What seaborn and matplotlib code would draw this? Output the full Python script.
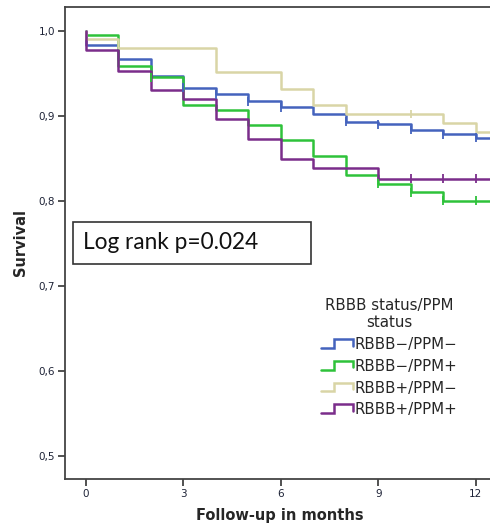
import numpy as np
import pandas as pd
import matplotlib
matplotlib.use("Agg")
import matplotlib.pyplot as plt
from matplotlib.lines import Line2D
from matplotlib.legend_handler import HandlerBase
from matplotlib.patches import Rectangle
import seaborn as sns

# Kaplan-Meier estimates, one value per month (a repeated 0 gives the drop at time zero)
months = [0, 0, 1, 2, 3, 4, 5, 6, 7, 8, 9, 10, 11, 12, 12.9]
groups = ["RBBB\u2212/PPM\u2212", "RBBB\u2212/PPM+", "RBBB+/PPM\u2212", "RBBB+/PPM+"]
surv_neg_neg = [1.0, 0.983, 0.966, 0.946, 0.933, 0.925, 0.917, 0.910, 0.902, 0.893, 0.890, 0.883, 0.878, 0.874, 0.874]
surv_neg_pos = [1.0, 0.995, 0.958, 0.945, 0.912, 0.907, 0.889, 0.871, 0.852, 0.830, 0.820, 0.810, 0.800, 0.800, 0.800]
surv_pos_neg = [1.0, 0.990, 0.980, 0.980, 0.980, 0.951, 0.951, 0.931, 0.912, 0.902, 0.902, 0.902, 0.891, 0.881, 0.881]
surv_pos_pos = [1.0, 0.977, 0.953, 0.930, 0.919, 0.896, 0.872, 0.849, 0.838, 0.838, 0.826, 0.826, 0.826, 0.826, 0.826]

# censored observations (month) per group
censor_neg_neg = [3, 4, 5, 6, 8, 9, 10, 11, 12]
censor_neg_pos = [2, 9, 10, 11, 12]
censor_pos_neg = [10]
censor_pos_pos = [10, 11, 12]

x_ticks = [0, 3, 6, 9, 12]
y_ticks = [0.5, 0.6, 0.7, 0.8, 0.9, 1.0]
p_text = "Log rank p=0.024"

colors = ["#4463bd", "#2ec23a", "#d9d5a6", "#7b2d8b"]
palette = dict(zip(groups, colors))

curves = [surv_neg_neg, surv_neg_pos, surv_pos_neg, surv_pos_pos]
censors = [censor_neg_neg, censor_neg_pos, censor_pos_neg, censor_pos_pos]

df = pd.concat(
    [pd.DataFrame({"month": months, "surv": s, "group": g}) for g, s in zip(groups, curves)],
    ignore_index=True,
)


def value_at(t, m, s):
    idx = max(i for i, mm in enumerate(m) if mm <= t)
    return s[idx]


cens = pd.DataFrame(
    [
        {"month": t, "surv": value_at(t, months, s), "group": g}
        for g, s, c in zip(groups, curves, censors)
        for t in c
    ]
)

sns.set_style("ticks")
plt.rcParams["font.family"] = ["DejaVu Sans"]

fig = plt.figure(figsize=(4.9, 5.31), dpi=100)
# the plotting frame runs on past the right edge of the figure
ax_w = 455
ax = fig.add_axes([65 / 490, 52 / 531, ax_w / 490, 472.3 / 531])

sns.lineplot(
    data=df, x="month", y="surv", hue="group", palette=palette,
    estimator=None, sort=False, drawstyle="steps-post",
    linewidth=1.8, legend=False, ax=ax,
)
sns.scatterplot(
    data=cens, x="month", y="surv", hue="group", palette=palette,
    marker="|", s=40, linewidth=1.3, legend=False, ax=ax, zorder=3,
)

px_per_month = 32.48
ax.set_xlim(-21 / px_per_month, (ax_w - 21) / px_per_month)
ax.set_ylim(0.473, 1.028)
ax.set_xticks(x_ticks)
ax.set_yticks(y_ticks)
ax.set_yticklabels([f"{v:.1f}".replace(".", ",") for v in y_ticks])
ax.tick_params(axis="both", length=5, width=1.2, color="#333333",
               labelsize=7.5, labelcolor="#1d2236", pad=2)
for side in ["left", "bottom", "top"]:
    ax.spines[side].set_visible(True)
    ax.spines[side].set_color("#444444")
    ax.spines[side].set_linewidth(1.3)
ax.spines["right"].set_visible(False)

ax.set_xlabel("Follow-up in months", fontsize=10.5, fontweight="bold", labelpad=8)
ax.xaxis.set_label_coords((280 - 65) / ax_w, -0.062)
ax.set_ylabel("Survival", fontsize=10.5, fontweight="bold", labelpad=8)

# annotation box with the log-rank result
ax.add_patch(Rectangle((8.3 / ax_w, 0.455), 237.4 / ax_w, 0.0883, transform=ax.transAxes,
                       fill=True, fc="white", ec="#333333", lw=1.2, zorder=4))
ax.text(17.7 / ax_w, 0.4997, p_text, transform=ax.transAxes, fontsize=16.3,
        family="Lato", va="center", ha="left", color="#111111", zorder=5)


class StepHandler(HandlerBase):
    def create_artists(self, legend, orig_handle, xdescent, ydescent,
                       width, height, fontsize, trans):
        x0, x1 = -xdescent, -xdescent + width
        yl, yh = -ydescent + 0.12 * height, -ydescent + 0.95 * height
        xm = x0 + 0.42 * width
        line = Line2D([x0, xm, xm, x1, x1], [yl, yl, yh, yh, yl + 0.25 * (yh - yl)],
                      color=orig_handle.get_color(), lw=1.8, transform=trans,
                      solid_joinstyle="miter")
        return [line]


handles = [Line2D([], [], color=c) for c in colors]
leg = fig.legend(
    handles, groups, title="RBBB status/PPM\nstatus",
    handler_map={Line2D: StepHandler()},
    loc="upper left", bbox_to_anchor=(318 / 490, 1 - 295 / 531),
    frameon=False, fontsize=10.8, title_fontsize=10.8,
    handlelength=2.1, handletextpad=0.1, labelspacing=0.45,
    borderaxespad=0, borderpad=0.2,
)
leg.get_title().set_multialignment("center")

fig.savefig("out.png", dpi=100)
